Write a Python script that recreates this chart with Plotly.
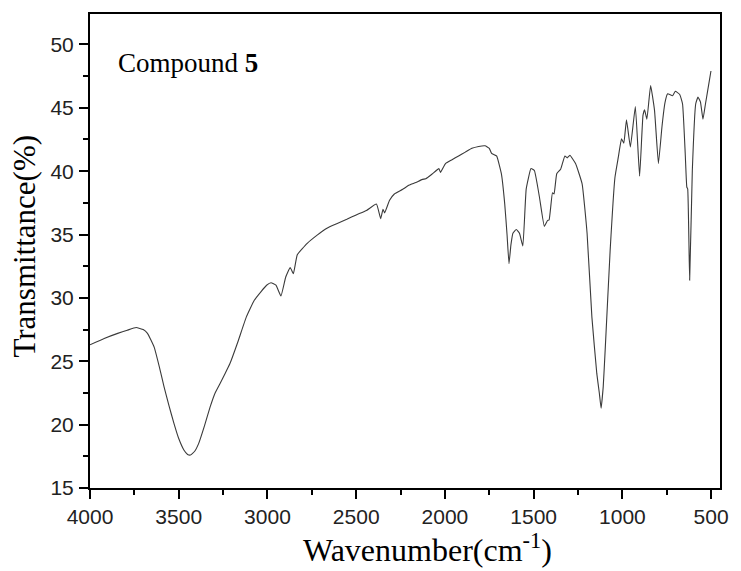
import plotly.graph_objects as go

# Wavenumber (cm-1) and transmittance (%)
wavenumber = [4000, 3920, 3844, 3790, 3740, 3700, 3676, 3638, 3610, 3583, 3555, 3527, 3500,
              3471, 3450, 3434, 3410, 3388, 3355, 3323, 3295, 3267, 3240, 3212, 3165,
              3119, 3075, 3036, 3005, 2980, 2952, 2924, 2897, 2872, 2854, 2832, 2776,
              2720, 2665, 2610, 2553, 2500, 2442, 2386, 2362, 2349, 2340, 2312, 2285,
              2240, 2201, 2164, 2127, 2108, 2070, 2034, 2025, 1997, 1960, 1923, 1885,
              1848, 1810, 1774, 1750, 1737, 1709, 1682, 1663, 1650, 1639, 1628, 1617,
              1598, 1580, 1561, 1542, 1515, 1496, 1468, 1440, 1422, 1413, 1394, 1385,
              1370, 1348, 1324, 1311, 1296, 1264, 1227, 1199, 1172, 1144, 1130, 1120,
              1108, 1097, 1069, 1042, 1023, 1005, 992, 977, 955, 927, 903, 884,
              875, 862, 841, 819, 797, 777, 760, 745, 717, 702, 677, 661,
              646, 637, 632, 621, 606, 587, 574, 560, 546, 532, 510, 501]
transmittance = [26.3, 26.8, 27.2, 27.45, 27.66, 27.5, 27.2, 26.1, 24.6, 23.0, 21.5, 20.1, 18.9,
                 18.0, 17.65, 17.6, 17.9, 18.5, 19.9, 21.4, 22.5, 23.25, 24.0, 24.8, 26.6,
                 28.5, 29.8, 30.5, 31.0, 31.2, 31.0, 30.15, 31.65, 32.4, 31.9, 33.4, 34.3,
                 34.95, 35.5, 35.85, 36.2, 36.55, 36.9, 37.4, 36.25, 37.0, 36.7, 37.7, 38.2,
                 38.55, 38.9, 39.1, 39.35, 39.4, 39.8, 40.2, 39.9, 40.6, 40.9, 41.2, 41.5,
                 41.8, 41.95, 42.0, 41.8, 41.4, 41.2, 39.8, 37.4, 35.0, 32.7, 34.2, 35.1,
                 35.4, 35.1, 34.1, 38.6, 40.2, 40.05, 38.0, 35.65, 36.1, 36.15, 38.3, 38.2,
                 39.8, 40.15, 41.2, 41.05, 41.25, 40.6, 39.0, 35.1, 28.5, 24.0, 22.5, 21.3,
                 23.0, 25.9, 33.75, 39.5, 41.1, 42.55, 42.2, 44.05, 41.9, 45.1, 39.6, 44.4,
                 44.85, 44.1, 46.75, 44.8, 40.6, 43.5, 45.4, 46.1, 45.95, 46.3, 46.05, 45.3,
                 41.4, 38.75, 38.6, 31.4, 40.05, 45.3, 45.85, 45.45, 44.1, 45.3, 47.15, 47.9]

x_ticks = [4000, 3500, 3000, 2500, 2000, 1500, 1000, 500]
y_ticks = [15, 20, 25, 30, 35, 40, 45, 50]

fig = go.Figure()
fig.add_trace(go.Scatter(
    x=wavenumber, y=transmittance, mode="lines",
    line=dict(color="#3a3a3a", width=1.1, shape="spline", smoothing=0.35),
    showlegend=False, hoverinfo="skip"))

axis_common = dict(
    showline=True, linecolor="black", linewidth=2, mirror=True,
    ticks="outside", tickcolor="black", tickwidth=2, ticklen=9,
    showgrid=False, zeroline=False,
    tickfont=dict(family="Liberation Sans, Arial", size=21, color="#222"),
)

fig.update_layout(
    width=741, height=571,
    margin=dict(l=90, r=13, t=13, b=83),
    paper_bgcolor="white", plot_bgcolor="white",
    xaxis=dict(range=[4000, 450], tickvals=x_ticks,
               minor=dict(ticks="outside", ticklen=5, tickwidth=2, tickcolor="black", dtick=250),
               **axis_common),
    yaxis=dict(range=[15, 52.4], tickvals=y_ticks, ticklabelstandoff=1,
               minor=dict(ticks="outside", ticklen=5, tickwidth=2, tickcolor="black", dtick=2.5),
               **axis_common),
    annotations=[
        dict(text="Compound <b>5</b>", x=0, y=1, xref="paper", yref="paper",
             showarrow=False, font=dict(family="Liberation Serif, Times New Roman", size=27, color="black"),
             xanchor="left", yanchor="middle"),
        dict(text="Wavenumber(cm<sup>-1</sup>)", x=0.5, y=0, xref="paper", yref="paper",
             showarrow=False, font=dict(family="Liberation Serif, Times New Roman", size=32, color="black"),
             xanchor="center", yanchor="top"),
        dict(text="Transmittance(%)", x=0, y=0.5, xref="paper", yref="paper", textangle=-90,
             showarrow=False, font=dict(family="Liberation Serif, Times New Roman", size=31, color="black"),
             xanchor="right", yanchor="middle"),
    ],
)

# Position annotations in pixel terms of the paper
pw = 741 - 90 - 13
ph = 571 - 13 - 83
anns = list(fig.layout.annotations)
anns[0].update(x=(116 - 90) / pw, y=(488 - 62) / ph)
anns[1].update(x=(432 - 90) / pw, y=(488 - 526) / ph)
anns[2].update(x=(43 - 90) / pw, y=(488 - 246) / ph)
fig.layout.annotations = anns

fig.write_html("out.html")
